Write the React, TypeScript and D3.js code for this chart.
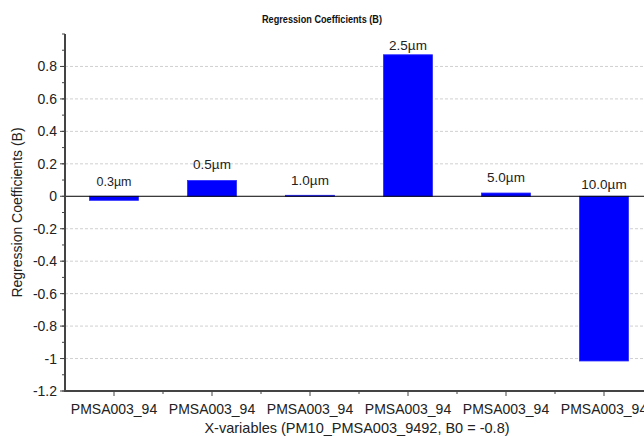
import React from "react";
import * as d3 from "d3";

const categories = ["0.3µm", "0.5µm", "1.0µm", "2.5µm", "5.0µm", "10.0µm"];
const tickLabels = ["PMSA003_94", "PMSA003_94", "PMSA003_94", "PMSA003_94", "PMSA003_94", "PMSA003_94"];
const coefficients = [-0.025, 0.097, 0.006, 0.872, 0.02, -1.015];
const labelAnchors = [0.092, 0.2, 0.1, 0.935, 0.117, 0.074];
const yTicks = [-1.2, -1, -0.8, -0.6, -0.4, -0.2, 0, 0.2, 0.4, 0.6, 0.8];
const yMinorTicks = d3.range(-1.2, 1.0001, 0.1).map((v) => Math.round(v * 10) / 10);

const W = 644, H = 436;
const left = 65, right = 653, top = 34, bottom = 391;
const font = "'Liberation Sans', Arial, sans-serif";

export default function App() {
  const x = d3.scaleBand<number>().domain(d3.range(categories.length)).range([left, right]).paddingInner(0).paddingOuter(0);
  const y = d3.scaleLinear().domain([-1.2, 1.0]).range([bottom, top]);
  const bw = x.bandwidth();
  const barW = bw * 0.5;
  const fmt = (v: number) => (Math.abs(v) < 1e-9 ? "0" : String(Math.round(v * 10) / 10));
  return (
    <svg width={W} height={H} style={{ position: "absolute", left: 0, top: 0, background: "#fff" }}>
      <text x={322} y={23} textAnchor="middle" fontFamily={font} fontSize={10.5} fontWeight="bold" fill="#111" textLength={120} lengthAdjust="spacingAndGlyphs">
        Regression Coefficients (B)
      </text>
      {yTicks.filter((v) => v !== 0 && v !== -1.2).map((v) => (
        <line key={"g" + v} x1={left} x2={W} y1={y(v)} y2={y(v)} stroke="#d0d0d0" strokeDasharray="3,2" strokeWidth={1} />
      ))}
      {coefficients.map((v, i) => {
        const cx = x(i)! + bw / 2;
        const y0 = y(Math.max(0, v));
        const y1 = y(Math.min(0, v));
        return (
          <rect key={"b" + i} x={cx - barW / 2} y={y0} width={barW} height={Math.max(1, y1 - y0)} fill="#0000ff" stroke="#2a2aff" strokeWidth={0.8} />
        );
      })}
      <line x1={left} x2={W} y1={y(0)} y2={y(0)} stroke="#000" strokeWidth={1} />
      {categories.map((c, i) => (
        <text key={"l" + i} x={x(i)! + bw / 2} y={y(labelAnchors[i]) + 5} textAnchor="middle" fontFamily={font} fontSize={i === 0 ? 12.5 : 13.5} fill="#222">
          {c}
        </text>
      ))}
      {/* y axis */}
      <line x1={left} x2={left} y1={top} y2={bottom + 1} stroke="#444" strokeWidth={2} />
      {yMinorTicks.map((v) => (
        <line key={"m" + v} x1={left - 3} x2={left} y1={y(v)} y2={y(v)} stroke="#444" strokeWidth={1} />
      ))}
      {yTicks.map((v) => (
        <g key={"t" + v}>
          <line x1={left - 5} x2={left} y1={y(v)} y2={y(v)} stroke="#444" strokeWidth={1} />
          <text x={left - 8} y={y(v) + 5} textAnchor="end" fontFamily={font} fontSize={14} fill="#222">
            {fmt(v)}
          </text>
        </g>
      ))}
      <text transform={`translate(22,${(top + bottom) / 2}) rotate(-90)`} textAnchor="middle" fontFamily={font} fontSize={14} fill="#222">
        Regression Coefficients (B)
      </text>
      {/* x axis */}
      <line x1={left - 1} x2={W} y1={bottom} y2={bottom} stroke="#444" strokeWidth={2} />
      {categories.map((_, i) => (
        <g key={"xt" + i}>
          <line x1={x(i)! + bw / 2} x2={x(i)! + bw / 2} y1={bottom} y2={bottom + 5} stroke="#444" strokeWidth={1} />
          {i > 0 && <line x1={x(i)!} x2={x(i)!} y1={bottom} y2={bottom + 3} stroke="#444" strokeWidth={1} />}
          <text x={x(i)! + bw / 2} y={bottom + 23} textAnchor="middle" fontFamily={font} fontSize={14} fill="#222">
            {tickLabels[i]}
          </text>
        </g>
      ))}
      <text x={357} y={433} textAnchor="middle" fontFamily={font} fontSize={14.5} fill="#222">
        X-variables (PM10_PMSA003_9492, B0 = -0.8)
      </text>
    </svg>
  );
}
